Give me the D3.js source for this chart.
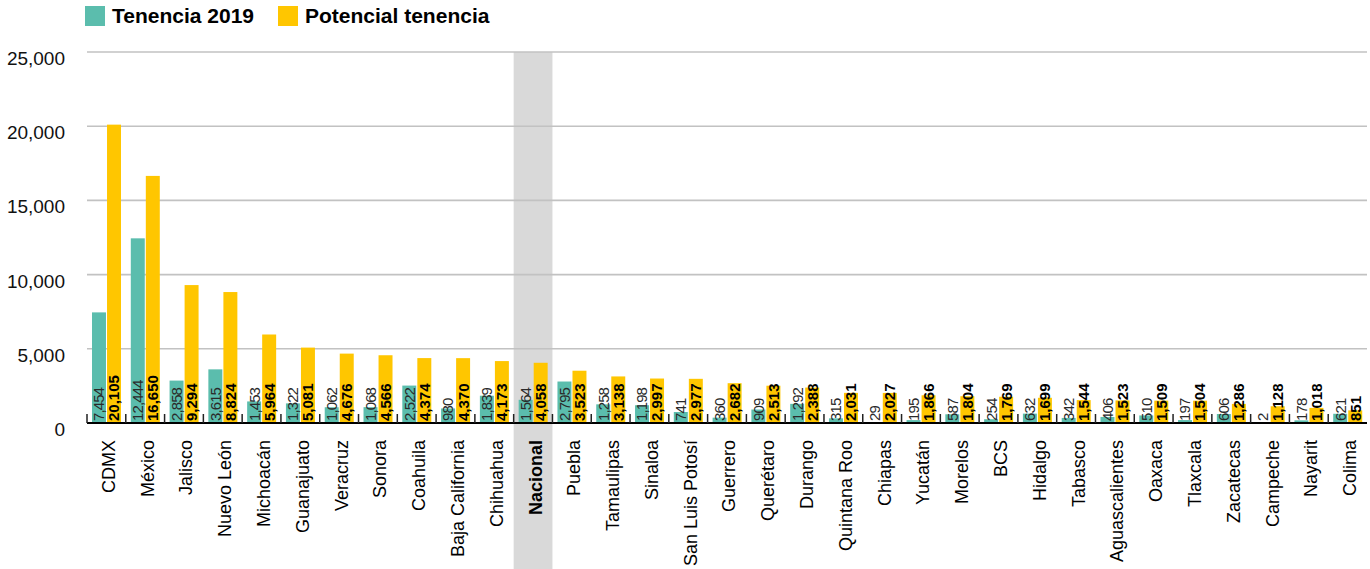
<!DOCTYPE html>
<html>
<head>
<meta charset="utf-8">
<script src="https://cdn.jsdelivr.net/npm/d3@7"></script>
<style>
  html, body { margin: 0; padding: 0; background: #fff; }
  svg { display: block; font-family: "Liberation Sans", Arial, sans-serif; }
</style>
</head>
<body>
<svg id="chart" width="1370" height="569"></svg>
<script>
const categories = ["CDMX","México","Jalisco","Nuevo León","Michoacán","Guanajuato","Veracruz","Sonora","Coahuila","Baja California","Chihuahua","Nacional","Puebla","Tamaulipas","Sinaloa","San Luis Potosí","Guerrero","Querétaro","Durango","Quintana Roo","Chiapas","Yucatán","Morelos","BCS","Hidalgo","Tabasco","Aguascalientes","Oaxaca","Tlaxcala","Zacatecas","Campeche","Nayarit","Colima"];
const tenencia2019 = [7454,12444,2858,3615,1453,1322,1062,1068,2522,980,1839,1564,2795,1258,1198,741,360,909,1292,315,29,195,587,254,632,342,406,510,197,606,2,178,621];
const potencialTenencia = [20105,16650,9294,8824,5964,5081,4676,4566,4374,4370,4173,4058,3523,3138,2997,2977,2682,2513,2388,2031,2027,1866,1804,1769,1699,1544,1523,1509,1504,1286,1128,1018,851];
const seriesNames = ["Tenencia 2019","Potencial tenencia"];
const yTicks = [0,5000,10000,15000,20000,25000];
const highlight = "Nacional";

const colors = { "Tenencia 2019": "#5bbdad", "Potencial tenencia": "#ffc600" };

(function () {
const svg = d3.select("#chart");
const mLeft = 87, mRight = 1367, mTop = 52, base = 423;

const x = d3.scaleBand().domain(categories).range([mLeft, mRight]).padding(0);
const x1 = d3.scaleBand().domain(seriesNames).range([5, 34]).paddingInner(0.07);
const y = d3.scaleLinear().domain([0, 25000]).range([base, mTop]);

// highlight band
svg.append("rect")
  .attr("x", x(highlight)).attr("y", mTop)
  .attr("width", x.bandwidth()).attr("height", 569 - mTop)
  .attr("fill", "#d9d9d9");

// gridlines
svg.append("g").selectAll("line").data(yTicks.filter(d => d > 0)).join("line")
  .attr("x1", mLeft).attr("x2", mRight)
  .attr("y1", d => y(d)).attr("y2", d => y(d))
  .attr("stroke", "#c2c2c2").attr("stroke-width", 1.6);

// y labels
svg.append("g").selectAll("text").data(yTicks).join("text")
  .attr("x", 65).attr("y", d => y(d) + 13)
  .attr("text-anchor", "end")
  .attr("font-size", 19).attr("fill", "#111")
  .text(d => d3.format(",")(d));

// bars
const data = categories.map((c, i) => ({ cat: c, vals: [
  { key: "Tenencia 2019", v: tenencia2019[i] },
  { key: "Potencial tenencia", v: potencialTenencia[i] }
]}));

const groups = svg.append("g").selectAll("g").data(data).join("g")
  .attr("transform", d => `translate(${x(d.cat)},0)`);

groups.selectAll("rect").data(d => d.vals).join("rect")
  .attr("x", d => x1(d.key)).attr("width", x1.bandwidth())
  .attr("y", d => y(d.v)).attr("height", d => base - y(d.v))
  .attr("fill", d => colors[d.key]);

groups.selectAll("text").data(d => d.vals).join("text")
  .attr("transform", d => `translate(${x1(d.key) + x1.bandwidth() / 2},${base - 2}) rotate(-90)`)
  .attr("dy", "0.36em")
  .attr("font-size", 15)
  .attr("font-weight", d => d.key === "Tenencia 2019" ? "normal" : "bold")
  .attr("letter-spacing", d => d.key === "Tenencia 2019" ? -0.9 : 0)
  .attr("fill", d => d.key === "Tenencia 2019" ? "#2a2a2a" : "#000")
  .text(d => d3.format(",")(d.v));

// x axis baseline + ticks
svg.append("line").attr("x1", mLeft).attr("x2", mRight).attr("y1", base).attr("y2", base)
  .attr("stroke", "#000").attr("stroke-width", 2);
svg.append("g").selectAll("line").data(categories).join("line")
  .attr("x1", d => x(d)).attr("x2", d => x(d))
  .attr("y1", base - 9).attr("y2", base)
  .attr("stroke", "#222").attr("stroke-width", 1.5);

// x labels
svg.append("g").selectAll("text").data(categories).join("text")
  .attr("transform", d => `translate(${x(d) + x.bandwidth() / 2 + 2},440) rotate(-90)`)
  .attr("dy", "0.36em")
  .attr("text-anchor", "end")
  .attr("font-size", 18)
  .attr("font-weight", d => d === highlight ? "bold" : "normal")
  .attr("fill", "#000")
  .text(d => d);

// legend
const legendPos = [{ k: "Tenencia 2019", rx: 85, tx: 112 }, { k: "Potencial tenencia", rx: 278, tx: 305 }];
const lg = svg.append("g");
lg.selectAll("rect").data(legendPos).join("rect")
  .attr("x", d => d.rx).attr("y", 6).attr("width", 20).attr("height", 20)
  .attr("fill", d => colors[d.k]);
lg.selectAll("text").data(legendPos).join("text")
  .attr("x", d => d.tx).attr("y", 23)
  .attr("font-size", 21).attr("font-weight", "bold").attr("fill", "#000")
  .text(d => d.k);
})();
</script>
</body>
</html>
